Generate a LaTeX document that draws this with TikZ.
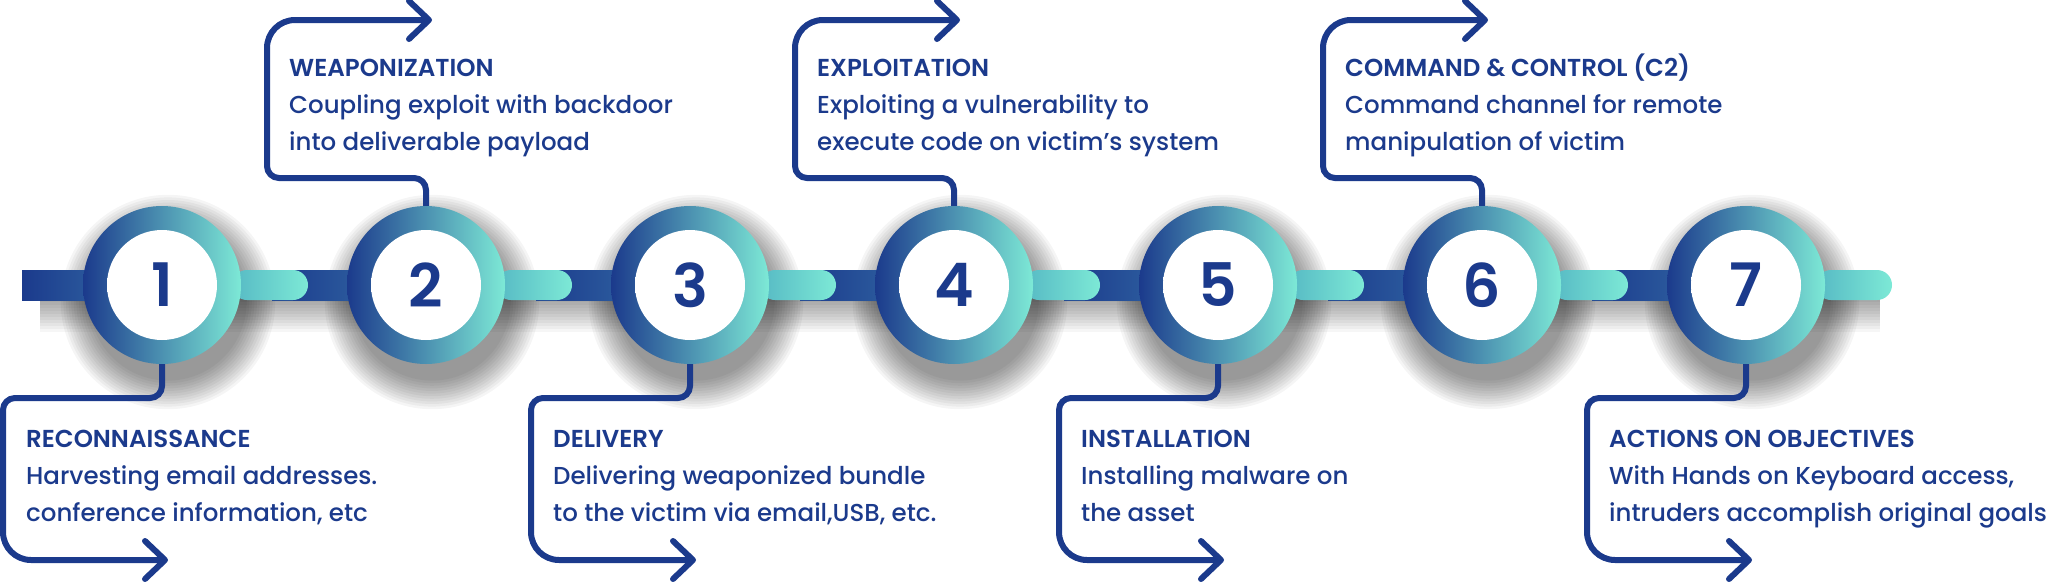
\documentclass[tikz,border=0pt]{standalone}
\usepackage{fontspec}
\IfFontExistsTF{Poppins Medium}{\setmainfont{Poppins Medium}[BoldFont=Poppins SemiBold]}{\setmainfont{Poppins}}
\IfFontExistsTF{Poppins SemiBold}{\newfontfamily\digitfont{Poppins SemiBold}}{\newfontfamily\digitfont{Poppins Bold}}
\usetikzlibrary{arrows.meta}
\definecolor{navy}{HTML}{1B3A8C}
\definecolor{tealc}{HTML}{7DE9D6}
\definecolor{tealdk}{HTML}{56B9C4}
\definecolor{barmid}{HTML}{2E60A0}
\pgfdeclareradialshading{innerwhite}{\pgfpoint{5bp}{-6bp}}{color(0bp)=(white); color(33bp)=(white); color(45bp)=(black!16); color(52bp)=(black!36)}
\newcommand\cktext[3]{\vtop{\baselineskip=37pt\lineskiplimit=-60pt\hbox{\bfseries #1}\hbox{#2}\hbox{#3}}}
\tikzset{
  bracket/.style={draw=navy, line width=6pt, rounded corners=12pt, -{Straight Barb[length=20pt,width=38pt,round]}},
  ring/.style={circle, minimum size=158pt, inner sep=0pt, left color=navy, right color=tealc},
  hole/.style={circle, minimum size=110pt, inner sep=0pt, shading=innerwhite, text=navy, font=\digitfont\fontsize{60}{60}\selectfont},
  steptext/.style={anchor=base west, inner sep=0pt, text=navy, font=\fontsize{24.5}{37}\selectfont}
}
\begin{document}
\begin{tikzpicture}[x=1pt,y=-1pt]
\fill[white] (0,0) rectangle (2048,581);
\useasboundingbox (0,0) rectangle (2048,581);
% shadows
\foreach \i in {1,...,12}{
  \fill[black,opacity=0.035] (40,285) rectangle (1880,{296+3*\i});
}
\foreach \k in {1,...,7}{
  \pgfmathsetmacro\cx{162+264*(\k-1)}
  \foreach \i in {1,...,12}{
    \fill[black,opacity=0.04] (\cx+6,302) circle ({76+2.6*\i});
  }
}
% bar
\shade[left color=navy, right color=barmid] (22,270) rectangle (110,300);
\foreach \k in {1,...,6}{
  \pgfmathsetmacro\cx{162+264*(\k-1)}
  \shade[left color=navy, right color=barmid] (\cx+110,270) rectangle (\cx+210,300);
}
\foreach \k in {1,...,7}{
  \pgfmathsetmacro\cx{162+264*(\k-1)}
  \shade[left color=tealdk, right color=tealc, rounded corners=15pt] (\cx+70,270) rectangle (\cx+146,300);
}
% circles
\foreach \k in {1,...,7}{
  \pgfmathsetmacro\cx{162+264*(\k-1)}
  \node[ring] (c\k) at (\cx,285) {};
  \node[hole] (i\k) at (\cx,285) {\k};
}
% brackets
\foreach \k in {1,3,5,7}{
  \pgfmathsetmacro\cx{162+264*(\k-1)}
  \coordinate (t\k) at (\cx+6,560);
  \draw[bracket] (c\k.south) -- (\cx,398) -- (\cx-159,398) [rounded corners=28pt] -- (\cx-159,560) -- (t\k);
}
\foreach \k in {2,4,6}{
  \pgfmathsetmacro\cx{162+264*(\k-1)}
  \coordinate (t\k) at (\cx+6,20);
  \draw[bracket] (c\k.north) -- (\cx,178) -- (\cx-159,178) [rounded corners=28pt] -- (\cx-159,20) -- (t\k);
}
% texts
\node[steptext] (l1) at (26,447) {\cktext{RECONNAISSANCE}{Harvesting email addresses.}{conference information, etc}};
\node[steptext] (l2) at (289,76) {\cktext{WEAPONIZATION}{Coupling exploit with backdoor}{into deliverable payload}};
\node[steptext] (l3) at (553,447) {\cktext{DELIVERY}{Delivering weaponized bundle}{to the victim via email,USB, etc.}};
\node[steptext] (l4) at (817,76) {\cktext{EXPLOITATION}{Exploiting a vulnerability to}{execute code on victim's system}};
\node[steptext] (l5) at (1081,447) {\cktext{INSTALLATION}{Installing malware on}{the asset}};
\node[steptext] (l6) at (1345,76) {\cktext{COMMAND \& CONTROL (C2)}{Command channel for remote}{manipulation of victim}};
\node[steptext] (l7) at (1609,447) {\cktext{ACTIONS ON OBJECTIVES}{With Hands on Keyboard access,}{intruders accomplish original goals}};
\end{tikzpicture}
\end{document}
